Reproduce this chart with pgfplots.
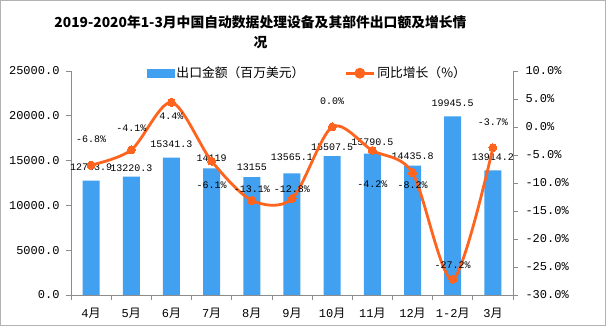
\documentclass[border=0pt]{standalone}
\usepackage{pgfplots}
\pgfplotsset{compat=1.18}
\usepackage{pgfplotstable}
\usepackage{fontspec}
\setmainfont{Liberation Mono}
\newfontfamily\cjk{Noto Sans CJK SC}
\newcommand\yue{{\cjk 月}}
\definecolor{barblue}{RGB}{65,160,240}
\definecolor{lineor}{RGB}{255,100,30}
\definecolor{axgray}{RGB}{140,140,140}

\pgfplotstableread{
x y dy
0 12763.9 13
1 13220.3 8
2 15341.3 13
3 14119 10
4 13155 10
5 13565.1 16
6 15507.5 9
7 15790.5 11
8 14435.8 9
9 19945.5 13
10 13914.2 13
}\bars

\pgfplotstableread{
x y dy
0 -6.8 26
1 -4.1 22
2 4.4 -14
3 -6.1 -24
4 -13.1 11
5 -12.8 9
6 0.0 26
7 -4.2 -34
8 -8.2 -12
9 -27.2 14
10 -3.7 26
}\growth

\begin{document}
\begin{tikzpicture}[x=1pt,y=1pt]
\useasboundingbox (-71,-31) rectangle (535,295);
\draw[gray!60, line width=0.8pt] (-70.5,-30.5) rectangle (534.5,294.5);
\node[font=\cjk\bfseries\fontsize{13.8}{15}\selectfont] at (189.5,273) {2019-2020年1-3月中国自动数据处理设备及其部件出口额及增长情};
\node[font=\cjk\bfseries\fontsize{13.8}{15}\selectfont] at (189.5,252) {况};
\begin{axis}[
  at={(0pt,0pt)}, anchor=south west,
  width=442pt, height=224pt, scale only axis,
  xmin=-0.5, xmax=10.5, ymin=0, ymax=25000,
  axis y line*=left, axis x line*=bottom,
  axis line style={axgray, line width=0.8pt},
  xtick={-0.5,0.5,...,10.5},
  x tick label as interval,
  xticklabels={4\yue,5\yue,6\yue,7\yue,8\yue,9\yue,10\yue,11\yue,12\yue,1-2\yue,3\yue},
  ytick={0,5000,...,25000},
  tick align=outside, major tick length=5pt,
  tick style={axgray, line width=0.8pt},
  /pgf/number format/assume math mode=true,
  scaled y ticks=false,
  yticklabel={\pgfmathprintnumber[fixed,fixed zerofill,precision=1,1000 sep={}]{\tick}},
  yticklabel style={font=\fontsize{12}{14}\selectfont, xshift=-3pt},
  xticklabel style={font=\fontsize{12}{14}\selectfont, yshift=-5pt},
  clip=false,
]
\addplot[ybar, bar width=17pt, fill=barblue, draw=none,
  point meta=explicit symbolic,
  visualization depends on={\thisrow{dy} \as \dy},
  nodes near coords,
  every node near coord/.append style={anchor=center, yshift=\dy, text=black, font=\fontsize{10}{12}\selectfont}]
  table[x=x, y=y, meta=y]{\bars};
\end{axis}
\begin{axis}[
  at={(0pt,0pt)}, anchor=south west,
  width=442pt, height=224pt, scale only axis,
  xmin=-0.5, xmax=10.5, ymin=-30, ymax=10,
  axis y line*=right, axis x line=none,
  axis line style={axgray, line width=0.8pt},
  ytick={-30,-25,...,10},
  tick align=outside, major tick length=5pt,
  tick style={axgray, line width=0.8pt},
  /pgf/number format/assume math mode=true,
  yticklabel={\pgfmathprintnumber[fixed,fixed zerofill,precision=1]{\tick}\%},
  yticklabel style={font=\fontsize{12}{14}\selectfont, xshift=4pt},
  clip=false,
  legend style={at={(0.535,0.99)}, anchor=center, draw=none, fill=none,
    legend columns=2, font=\cjk\fontsize{12.8}{14}\selectfont,
    /tikz/every even column/.append style={column sep=38pt}},
]
\addlegendimage{legend image code/.code={\fill[barblue] (0pt,-4pt) rectangle (27pt,4pt);}}
\addlegendentry{出口金额（百万美元）}
\addplot[lineor, line width=2.8pt, smooth, mark=*, mark size=4pt,
  mark options={fill=lineor, draw=lineor, line width=0pt},
  legend image code/.code={\draw[lineor,line width=2.8pt] (0pt,0pt) -- (28pt,0pt); \fill[lineor] (14pt,0pt) circle (4pt);},
  point meta=explicit symbolic,
  visualization depends on={\thisrow{dy} \as \dy},
  nodes near coords={\pgfplotspointmeta\%},
  every node near coord/.append style={anchor=center, yshift=\dy, text=black, font=\fontsize{10}{12}\selectfont}]
  table[x=x, y=y, meta=y]{\growth};
\addlegendentry{同比增长（\%）}
\end{axis}
\end{tikzpicture}
\end{document}
